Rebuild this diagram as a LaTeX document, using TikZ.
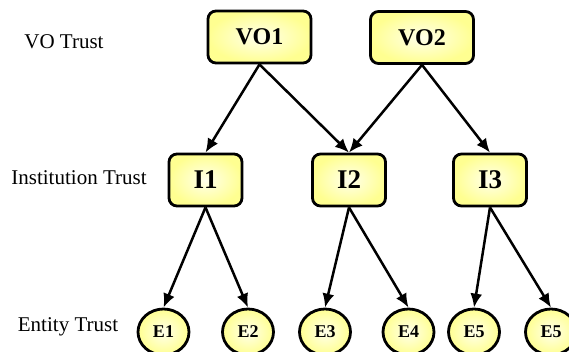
\documentclass[tikz,border=0pt]{standalone}
\usepackage{fontspec}
\setmainfont{Liberation Serif}
\usetikzlibrary{arrows.meta,shapes.geometric}

\definecolor{boxedge}{RGB}{255,255,145}
\definecolor{boxcore}{RGB}{255,255,235}

\tikzset{
  trustbox/.style={draw=black, line width=2.8pt, rounded corners=8pt,
    shading=radial, inner color=boxcore, outer color=boxedge,
    align=center, inner sep=0pt},
  vobox/.style={trustbox, minimum width=103pt, minimum height=52pt,
    font=\fontsize{24}{26}\selectfont\bfseries},
  instbox/.style={trustbox, minimum width=73pt, minimum height=52pt,
    font=\fontsize{27}{29}\selectfont\bfseries},
  entity/.style={ellipse, draw=black, line width=2.8pt,
    shading=radial, inner color=boxcore, outer color=boxedge,
    minimum width=51pt, minimum height=46pt, inner sep=0pt,
    font=\fontsize{18}{20}\selectfont\bfseries},
  level/.style={font=\fontsize{21}{23}\selectfont, inner sep=0pt},
  link/.style={line width=2.5pt, -{Latex[length=14pt,width=12pt]}}
}

\begin{document}
\begin{tikzpicture}[x=1pt,y=-1pt]
  \useasboundingbox (0,0) rectangle (569,352);

  % level captions
  \node[level] (lvo)   at (64,42)  {VO Trust};
  \node[level] (linst) at (79,178) {Institution Trust};
  \node[level] (lent)  at (68,327) {Entity Trust};

  % virtual organisations
  \node[vobox] (vo1) at (259.5,37) {VO1};
  \node[vobox] (vo2) at (422,37.5) {VO2};

  % institutions
  \node[instbox] (i1) at (205.5,180) {I1};
  \node[instbox] (i2) at (349,180)   {I2};
  \node[instbox] (i3) at (490,180)   {I3};

  % entities
  \node[entity] (e1) at (163.5,332) {E1};
  \node[entity] (e2) at (248,332)   {E2};
  \node[entity] (e3) at (325,332)   {E3};
  \node[entity] (e4) at (408.5,332) {E4};
  \node[entity] (e5) at (474,332)   {E5};
  \node[entity] (e6) at (551,332)   {E5};

  % trust relations
  \draw[link] (vo1.south) -- (i1.north);
  \draw[link] (vo1.south) -- (i2.north);
  \draw[link] (vo2.south) -- (i2.north);
  \draw[link] (vo2.south) -- (i3.north);

  \draw[link] (i1.south) -- (e1.north);
  \draw[link] (i1.south) -- (e2.north);
  \draw[link] (i2.south) -- (e3.north);
  \draw[link] (i2.south) -- (e4.north);
  \draw[link] (i3.south) -- (e5.north);
  \draw[link] (i3.south) -- (e6.north);
\end{tikzpicture}
\end{document}
